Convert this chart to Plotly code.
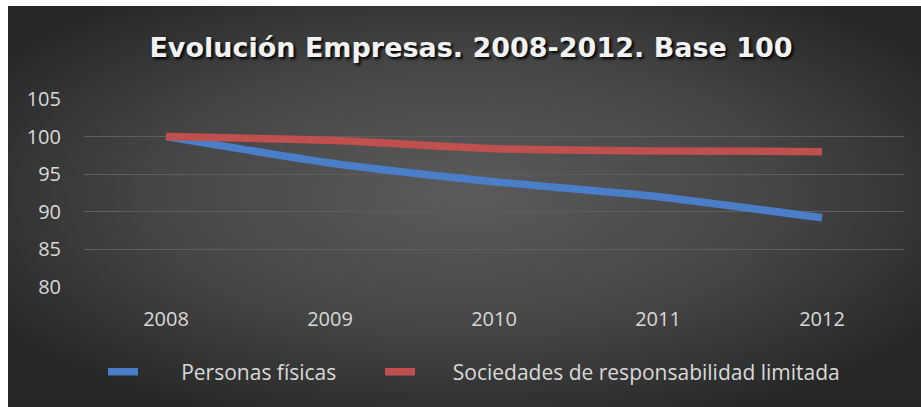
import base64
import plotly.graph_objects as go

years = ["2008", "2009", "2010", "2011", "2012"]
personas_fisicas = [100, 96.5, 94.0, 92.0, 89.2]
sociedades_rl = [100, 99.5, 98.4, 98.1, 98.0]
y_ticks = [80, 85, 90, 95, 100, 105]
series_names = ["Personas físicas", "Sociedades de responsabilidad limitada"]

# page offset: body margin set to 6px top, 8px left (white strips as in reference)
W, H = 913, 401
ML, MR, MT, MB = 76, 17, 93, 120
PW, PH = W - ML - MR, H - MT - MB

svg = f'''<svg xmlns="http://www.w3.org/2000/svg" width="{W}" height="{H}" viewBox="0 0 {W} {H}">
<defs><radialGradient id="g" cx="50%" cy="47%" r="62%">
<stop offset="0" stop-color="#5b5b5b"/><stop offset="0.55" stop-color="#454545"/><stop offset="1" stop-color="#262626"/>
</radialGradient></defs>
<rect x="0" y="0" width="{W}" height="{H}" fill="url(#g)"/>
</svg>'''
src = "data:image/svg+xml;base64," + base64.b64encode(svg.encode()).decode()

font_family = "Open Sans, sans-serif"
FS = 20

fig = go.Figure()
fig.add_trace(go.Scatter(x=years, y=personas_fisicas, name="\u00a0" * 7 + series_names[0], legend="legend",
                         mode="lines", line=dict(color="#4a7ec8", width=7.5, shape="spline", smoothing=0.6)))
fig.add_trace(go.Scatter(x=years, y=sociedades_rl, name="\u00a0" * 6 + series_names[1], legend="legend2",
                         mode="lines", line=dict(color="#c0504d", width=7.5, shape="spline", smoothing=0.6)))

legend_common = dict(orientation="h", xanchor="left", y=(281 - 366) / PH, yanchor="middle",
                     font=dict(family=font_family, size=21, color="#d9d9d9"),
                     bgcolor="rgba(0,0,0,0)")

fig.update_layout(
    width=W, height=H,
    margin=dict(l=ML, r=MR, t=MT, b=MB),
    paper_bgcolor="#333333",
    plot_bgcolor="rgba(0,0,0,0)",
    images=[dict(source=src, xref="paper", yref="paper",
                 x=-ML / PW, y=1 + MT / PH, sizex=W / PW, sizey=H / PH,
                 xanchor="left", yanchor="top", sizing="stretch", layer="below")],
    title=dict(text="Evolución Empresas. 2008-2012. Base 100",
               x=463 / W, xanchor="center", xref="container", y=1 - 42 / H, yanchor="middle",
               font=dict(family="DejaVu Sans", size=27, color="#f2f2f2", weight="bold",
                         shadow="2px 2px 3px #000000")),
    xaxis=dict(showgrid=False, zeroline=False, showline=False, ticks="",
               tickfont=dict(family=font_family, size=FS, color="#d9d9d9"),
               ticklabelstandoff=18, range=[-0.5, 4.5], fixedrange=True),
    yaxis=dict(range=[80, 105], tickvals=y_ticks, showgrid=True,
               gridcolor="#5e5e5e", gridwidth=1, zeroline=False, showline=False,
               ticks="", ticklabelstandoff=22,
               tickfont=dict(family=font_family, size=FS, color="#d9d9d9")),
    legend=dict(x=19 / PW, **legend_common),
    legend2=dict(x=296 / PW, **legend_common),
    showlegend=True,
)

fig.write_html("out.html", post_script="document.body.style.margin='6px 0 0 8px';")
